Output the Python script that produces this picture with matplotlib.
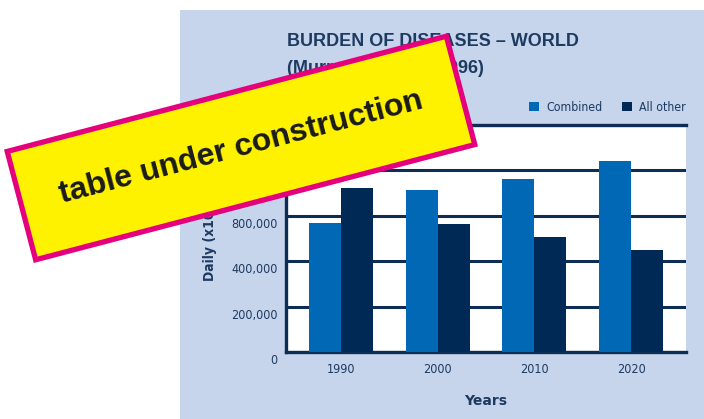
import matplotlib
matplotlib.use("Agg")
import matplotlib.pyplot as plt
import matplotlib.patches as mpatches
import matplotlib.transforms as mtrans
import numpy as np

years = ["1990", "2000", "2010", "2020"]
combined = [570000, 714000, 762000, 843000]
all_other = [723000, 564000, 506000, 450000]
series_names = ["Combined", "All other"]
ytick_values = [0, 200000, 400000, 600000, 800000, 1000000]
ytick_labels = ["0", "200,000", "400,000", "800,000", "", ""]
title_text = "BURDEN OF DISEASES \u2013 WORLD\n(Murray & Lopez, 1996)"
ylabel_text = "Daily (x1000)"
xlabel_text = "Years"
banner_text = "table under construction"

W, H = 704, 419
NF = dict(family="DejaVu Sans", stretch="condensed")

NAVY = "#0d2d55"
TXT = "#1d3a60"
C1 = "#0068b4"
C2 = "#002a55"
PANEL = "#c6d4ec"

fig = plt.figure(figsize=(W / 100, H / 100), dpi=100)
fig.patch.set_facecolor("white")
fig.patches.append(mpatches.Rectangle((180 / W, 0), 1 - 180 / W, (H - 10) / H,
                                      transform=fig.transFigure, facecolor=PANEL,
                                      edgecolor="none", zorder=-10))

ax = fig.add_axes([286 / W, (H - 352) / H, 400 / W, (352 - 125) / H])
ax.set_zorder(1)
ax.set_facecolor("white")
x = np.arange(len(years))
bw = 0.33
ax.bar(x - bw / 2, combined, width=bw, color=C1, label=series_names[0], zorder=3)
ax.bar(x + bw / 2, all_other, width=bw, color=C2, label=series_names[1], zorder=3)
ax.set_xlim(-0.565, len(years) - 1 + 0.565)
ax.set_ylim(0, ytick_values[-1])
ax.set_yticks(ytick_values)
ax.set_yticklabels(ytick_labels)
ax.set_xticks(x)
ax.set_xticklabels(years)
ax.grid(axis="y", color=NAVY, linewidth=2.2, zorder=1)
ax.set_axisbelow(True)
ax.spines["right"].set_visible(False)
for s in ["left", "bottom", "top"]:
    ax.spines[s].set_color(NAVY)
    ax.spines[s].set_linewidth(2.4)
ax.tick_params(length=0, colors=TXT, labelsize=9)
ax.tick_params(axis="y", pad=6)
ax.tick_params(axis="x", pad=8)
off = mtrans.ScaledTranslation(0, -7 / 100, fig.dpi_scale_trans)
for lab in ax.get_yticklabels():
    lab.set(**NF)
    lab.set_transform(lab.get_transform() + off)
for lab in ax.get_xticklabels():
    lab.set(**NF)
ax.set_xlabel(xlabel_text, color=TXT, fontsize=10, fontweight="bold", labelpad=13)
fig.text(210 / W, (H - 281) / H, ylabel_text, rotation=90, ha="center", va="bottom",
         color=TXT, fontsize=10, fontweight="bold", **NF)

leg = ax.legend(loc="lower right", bbox_to_anchor=(1.0, 1.05), ncol=2, frameon=False,
                handlelength=0.8, handleheight=0.8, handletextpad=0.6, columnspacing=1.6,
                borderaxespad=0, borderpad=0, fontsize=8.8)
for t in leg.get_texts():
    t.set_color(TXT)
    t.set(**NF)

fig.text(287 / W, (H - 33) / H, title_text, ha="left", va="top", color=TXT,
         fontsize=13, fontweight="bold", linespacing=1.75, family="Liberation Sans")

# banner
cx, cy = 241, H - 148
ang = 14.7
tr = mtrans.Affine2D().rotate_deg_around(cx, cy, ang) + mtrans.Affine2D().scale(1 / W, 1 / H) + fig.transFigure
rect = mpatches.Rectangle((cx - 227, cy - 56), 454, 112, facecolor="#fff200",
                          edgecolor="#e5007d", linewidth=3.8, transform=tr, zorder=20)
fig.patches.append(rect)
fig.text(cx / W, cy / H, banner_text, ha="center", va="center", rotation=ang,
         rotation_mode="anchor", fontsize=23, fontweight="bold", color="#1a1a1a",
         family="Liberation Sans", zorder=21)

fig.savefig("out.png", dpi=100)
